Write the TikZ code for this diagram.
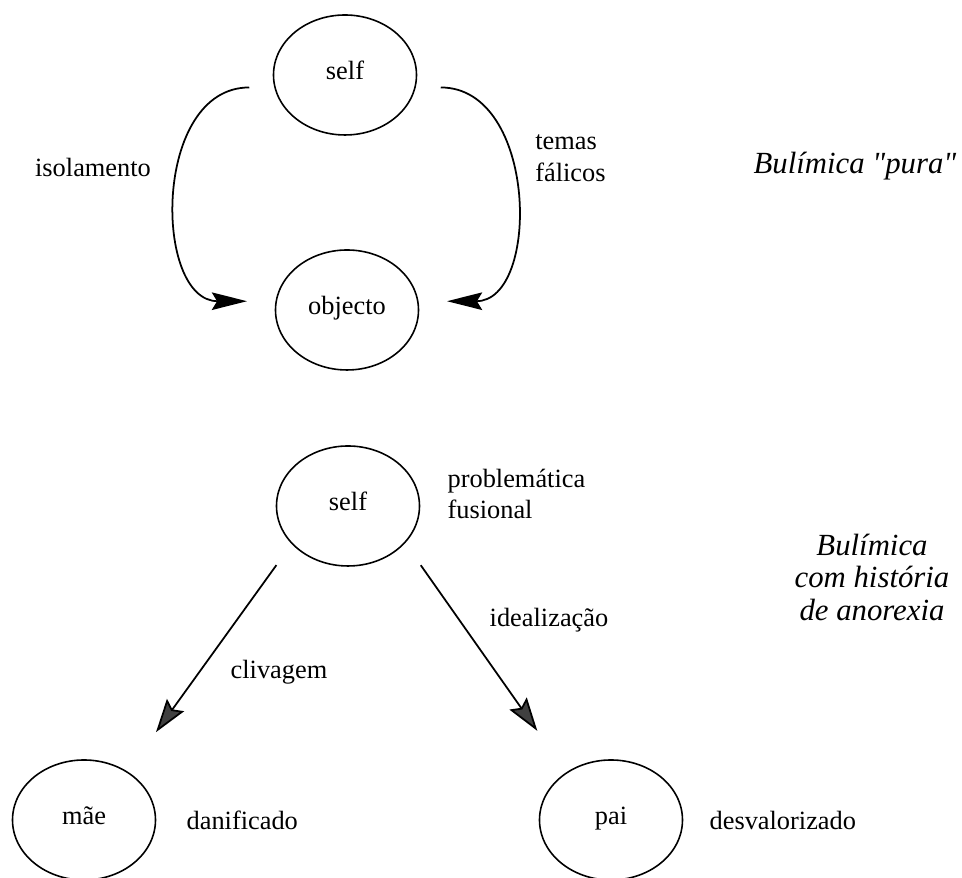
\documentclass[tikz,border=0pt]{standalone}
\usepackage{fontspec}
\setmainfont{Liberation Serif}
\usetikzlibrary{arrows.meta,positioning,shapes.geometric}
\tikzset{
  ent/.style={draw, ellipse, line width=0.9pt, minimum width=2.86cm, minimum height=2.4cm, inner sep=0pt,
              text height=1.1ex, text depth=0.1ex, font=\fontsize{15}{18}\selectfont},
  lbl/.style={font=\fontsize{15}{18}\selectfont, inner sep=0pt, align=left},
  kind/.style={font=\fontsize{17.5}{18.5}\selectfont\itshape, inner sep=0pt, align=center},
  bow/.style={line width=1pt, -{Stealth[length=20pt,width=10pt,inset=3pt]}},
  fork/.style={line width=1pt, -{Stealth[length=19pt,width=12pt,inset=3pt,fill=black!75]}}
}

\begin{document}
\begin{tikzpicture}
\useasboundingbox (0,0) rectangle (19.24,17.56);
% bulimica pura
\node[ent] (self1) at (6.90,16.06) {self};
\node[ent] (obj) at (6.94,11.36) {objecto};
\draw[bow, shorten <=0.5cm, shorten >=0.57cm] (self1.190) to[out=180,in=180,looseness=1.46] (obj.173);
\draw[bow, shorten <=0.5cm, shorten >=0.57cm] (self1.-10) to[out=0,in=0,looseness=1.46] (obj.7);
\node[lbl] (iso) at (1.86,14.20) {isolamento};
\node[lbl, anchor=west] (fal) at (10.70,14.40) {temas\\fálicos};
\node[kind] (pura) at (17.10,14.24) {Bulímica \textquotedbl pura\textquotedbl};
% com historia de anorexia
\node[ent] (self2) at (6.96,7.44) {self};
\node[ent] (mae) at (1.68,1.16) {mãe};
\node[ent] (pai) at (12.22,1.16) {pai};
\node[lbl, right=0.54cm of self2, yshift=0.24cm] (fus) {problemática\\fusional};
\draw[fork, shorten <=0.52cm, shorten >=0.97cm] (self2.214) -- (mae.48);
\draw[fork, shorten <=0.54cm, shorten >=1.01cm] (self2.327) -- (pai.133);
\node[lbl] (cliv) at (5.58,4.12) {clivagem};
\node[lbl] (ideal) at (10.98,5.16) {idealização};
\node[lbl, right=0.6cm of mae] (dan) {danificado};
\node[lbl, right=0.52cm of pai] (desv) {desvalorizado};
\node[kind] (anor) at (17.44,6.02) {Bulímica\\com história\\de anorexia};
\end{tikzpicture}
\end{document}
